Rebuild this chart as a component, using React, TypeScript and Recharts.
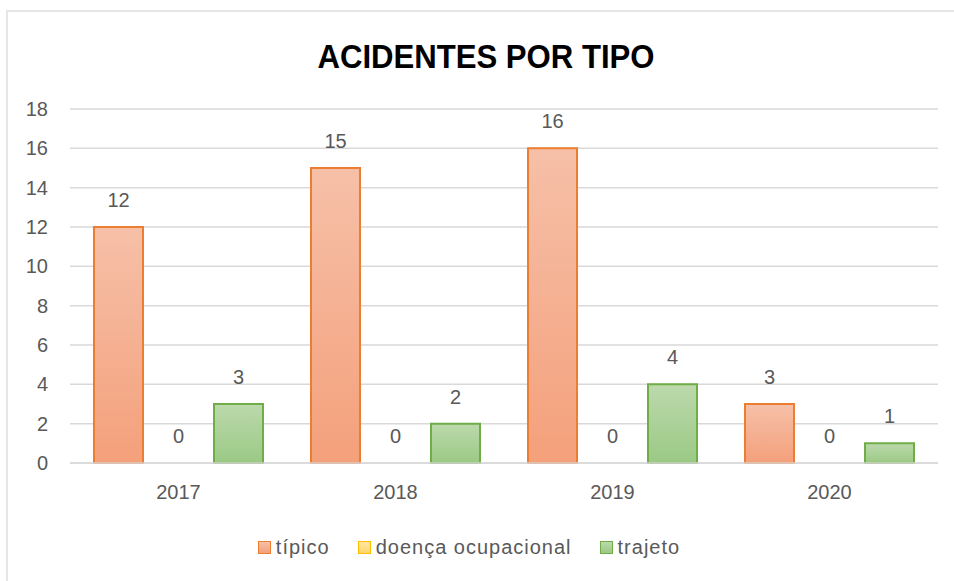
import React from 'react';
import { BarChart, Bar, XAxis, YAxis, CartesianGrid, Legend, LabelList } from 'recharts';

const years = ['2017', '2018', '2019', '2020'];
const tipico = [12, 15, 16, 3];
const doencaOcupacional = [0, 0, 0, 0];
const trajeto = [3, 2, 4, 1];
const yTicks = [0, 2, 4, 6, 8, 10, 12, 14, 16, 18];

const data = years.map((year, i) => ({
  year,
  tipico: tipico[i],
  doenca: doencaOcupacional[i],
  trajeto: trajeto[i],
}));

const series = [
  { key: 'tipico', name: 'típico', stroke: '#ED7D31', top: '#F6C0A8', bottom: '#F4A07B' },
  { key: 'doenca', name: 'doença ocupacional', stroke: '#FFC000', top: '#FFE7A3', bottom: '#FFD56B' },
  { key: 'trajeto', name: 'trajeto', stroke: '#70AD47', top: '#BCD9AC', bottom: '#9BC985' },
];

const font = '"Liberation Sans", Arial, sans-serif';
const gray = '#595959';

const LegendBox = () => (
  <div
    style={{
      display: 'flex',
      justifyContent: 'center',
      alignItems: 'center',
      height: 22,
      fontFamily: font,
      fontSize: 20,
      letterSpacing: 1,
      color: gray,
    }}
  >
    {series.map((s) => (
      <div key={s.key} style={{ display: 'flex', alignItems: 'center', margin: '0 14px' }}>
        <span
          style={{
            display: 'inline-block',
            width: 11,
            height: 11,
            border: `1.5px solid ${s.stroke}`,
            background: `linear-gradient(${s.top}, ${s.bottom})`,
            marginRight: 5,
          }}
        />
        <span>{s.name}</span>
      </div>
    ))}
  </div>
);

export default function App() {
  return (
    <div style={{ position: 'absolute', left: 0, top: 0, width: 954, height: 581, background: '#fff' }}>
      <div
        style={{
          position: 'absolute',
          left: 6,
          top: 10,
          right: 0,
          bottom: 0,
          borderLeft: '2px solid #e6e6e6',
          borderTop: '2px solid #e6e6e6',
        }}
      />
      <svg width={954} height={100} style={{ position: 'absolute', left: 0, top: 0 }}>
        <text
          x={486}
          y={68}
          textAnchor="middle"
          fontFamily={font}
          fontWeight="bold"
          fontSize={34}
          fill="#000"
          textLength={337}
          lengthAdjust="spacingAndGlyphs"
        >
          ACIDENTES POR TIPO
        </text>
      </svg>
      <BarChart
        width={954}
        height={581}
        data={data}
        margin={{ top: 109, right: 16, left: 0, bottom: 23 }}
        barCategoryGap={24}
        barGap={11}
      >
        <defs>
          {series.map((s) => (
            <linearGradient key={s.key} id={`grad-${s.key}`} x1="0" y1="0" x2="0" y2="1">
              <stop offset="0%" stopColor={s.top} />
              <stop offset="100%" stopColor={s.bottom} />
            </linearGradient>
          ))}
        </defs>
        <CartesianGrid vertical={false} stroke="#d9d9d9" strokeWidth={1.5} />
        <XAxis
          dataKey="year"
          height={73}
          tickLine={false}
          axisLine={{ stroke: '#d9d9d9', strokeWidth: 1.5 }}
          tickMargin={16}
          tick={{ fill: gray, fontSize: 20, fontFamily: font }}
        />
        <YAxis
          width={70}
          domain={[0, 18]}
          ticks={yTicks}
          interval={0}
          tickLine={false}
          axisLine={false}
          tickMargin={16}
          tick={{ fill: gray, fontSize: 20, fontFamily: font }}
        />
        <Legend verticalAlign="bottom" content={<LegendBox />} />
        {series.map((s) => {
          // zero-valued series: keep a tiny bar so its "0" labels are drawn, but no outline
          const isZero = s.key === 'doenca';
          return (
            <Bar
              key={s.key}
              dataKey={s.key}
              name={s.name}
              fill={`url(#grad-${s.key})`}
              stroke={isZero ? 'none' : s.stroke}
              strokeWidth={2}
              minPointSize={isZero ? 0.01 : 0}
              isAnimationActive={false}
            >
              <LabelList
                dataKey={s.key}
                position="top"
                offset={20}
                fill={gray}
                fontSize={20}
                fontFamily={font}
              />
            </Bar>
          );
        })}
      </BarChart>
    </div>
  );
}
